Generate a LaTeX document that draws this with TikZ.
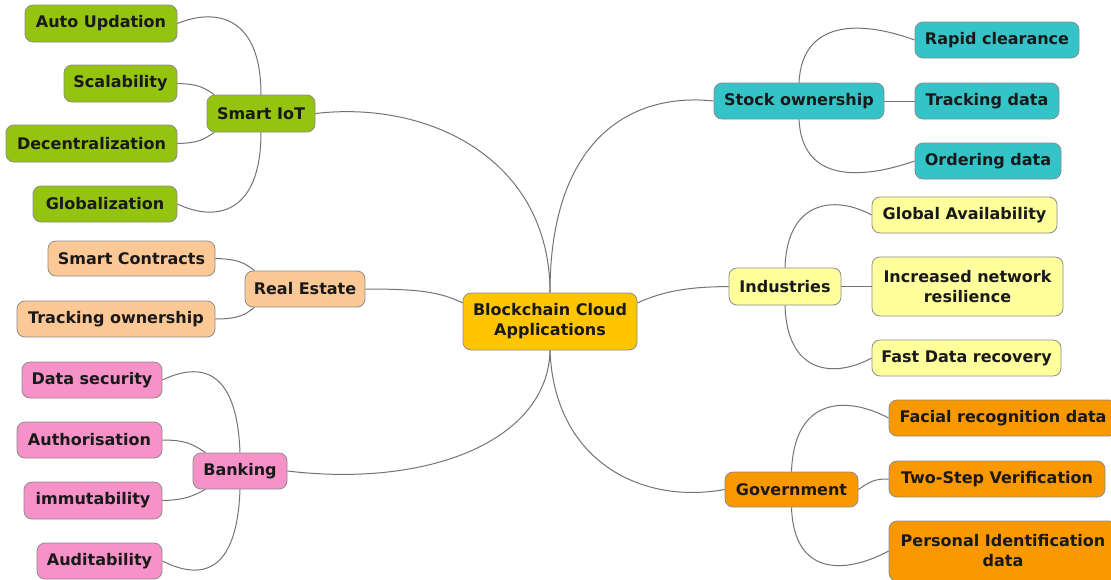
\documentclass[tikz,border=0pt]{standalone}
\usepackage{fontspec}
\setmainfont{DejaVu Sans}
\definecolor{cgreen}{RGB}{148,196,16}
\definecolor{cpeach}{RGB}{252,200,150}
\definecolor{cpink}{RGB}{246,146,200}
\definecolor{cgold}{RGB}{255,198,0}
\definecolor{cteal}{RGB}{52,196,200}
\definecolor{cyell}{RGB}{255,255,155}
\definecolor{corange}{RGB}{250,152,0}
\definecolor{ctext}{RGB}{25,25,25}
\definecolor{cline}{RGB}{115,115,115}
\tikzset{
  mbox/.style={draw=black!45, line width=0.8pt, rounded corners=8pt, inner sep=2pt,
    font=\fontsize{16}{20}\selectfont\bfseries, text=ctext, align=center},
  gbox/.style={mbox, fill=cgreen},
  pbox/.style={mbox, fill=cpeach},
  kbox/.style={mbox, fill=cpink},
  rbox/.style={mbox, fill=cgold},
  tbox/.style={mbox, fill=cteal},
  ybox/.style={mbox, fill=cyell},
  obox/.style={mbox, fill=corange},
  conn/.style={draw=cline, line width=1pt}
}
\begin{document}
\begin{tikzpicture}[x=1pt,y=-1pt]
\useasboundingbox (0,0) rectangle (1111,579);
% root
\node[rbox, minimum width=174pt, minimum height=57pt] (root) at (550,321.5) {Blockchain Cloud\\Applications};
% Smart IoT
\node[gbox, minimum width=108pt, minimum height=37pt] (iot) at (261,113.5) {Smart IoT};
\node[gbox, minimum width=152pt, minimum height=37pt] (aup) at (101,23.5) {Auto Updation};
\node[gbox, minimum width=113pt, minimum height=37pt] (sca) at (120.5,83.5) {Scalability};
\node[gbox, minimum width=171pt, minimum height=37pt] (dec) at (91.5,143.5) {Decentralization};
\node[gbox, minimum width=144pt, minimum height=36pt] (glo) at (105,204) {Globalization};
% Real estate
\node[pbox, minimum width=120pt, minimum height=36pt] (re) at (305,289) {Real Estate};
\node[pbox, minimum width=167pt, minimum height=35pt] (smc) at (131.5,258.5) {Smart Contracts};
\node[pbox, minimum width=198pt, minimum height=36pt] (tro) at (116,319) {Tracking ownership};
% Banking
\node[kbox, minimum width=94pt, minimum height=36pt] (bk) at (240,471) {Banking};
\node[kbox, minimum width=140pt, minimum height=36pt] (dse) at (92,380) {Data security};
\node[kbox, minimum width=145pt, minimum height=36pt] (aut) at (89.5,440) {Authorisation};
\node[kbox, minimum width=138pt, minimum height=37pt] (imm) at (93,500.5) {immutability};
\node[kbox, minimum width=125pt, minimum height=36pt] (aud) at (99.5,561) {Auditability};
% Stock ownership
\node[tbox, minimum width=170pt, minimum height=36pt] (sto) at (799,101) {Stock ownership};
\node[tbox, minimum width=164pt, minimum height=36pt] (rap) at (997,40) {Rapid clearance};
\node[tbox, minimum width=144pt, minimum height=36pt] (trd) at (987,101) {Tracking data};
\node[tbox, minimum width=146pt, minimum height=36pt] (ord) at (988,161) {Ordering data};
% Industries
\node[ybox, minimum width=112pt, minimum height=37pt] (ind) at (785,286.5) {Industries};
\node[ybox, minimum width=185pt, minimum height=36pt] (gav) at (964.5,215) {Global Availability};
\node[ybox, minimum width=191pt, minimum height=59pt] (inr) at (967.5,286.5) {Increased network\\resilience};
\node[ybox, minimum width=189pt, minimum height=36pt] (fdr) at (966.5,358) {Fast Data recovery};
% Government
\node[obox, minimum width=133pt, minimum height=35pt] (gov) at (791.5,489.5) {Government};
\node[obox, minimum width=228pt, minimum height=36pt] (fac) at (1003,418) {Facial recognition data};
\node[obox, minimum width=216pt, minimum height=36pt] (two) at (997,479) {Two-Step Verification};
\node[obox, minimum width=228pt, minimum height=60pt] (pid) at (1003,551) {Personal Identification\\data};
% main connectors
\draw[conn] (iot.east) .. controls (430,100) and (550,160) .. (root.north);
\draw[conn] (root.north) .. controls (550,140) and (630,92) .. (sto.west);
\draw[conn] (re.east) .. controls (420,289) and (440,292) .. (root.168);
\draw[conn] (root.12) .. controls (670,288) and (700,287) .. (ind.west);
\draw[conn] (bk.east) .. controls (430,488) and (548,440) .. (root.south);
\draw[conn] (root.south) .. controls (554,460) and (640,505) .. (gov.west);
% Smart IoT children
\draw[conn] (aup.east) .. controls (215,8) and (261,15) .. (iot.north);
\draw[conn] (sca.east) .. controls (198,84) and (203,87) .. (iot.158);
\draw[conn] (dec.east) .. controls (198,143) and (203,140) .. (iot.202);
\draw[conn] (glo.east) .. controls (215,222) and (261,215) .. (iot.south);
% Real estate children
\draw[conn] (smc.east) .. controls (238,259) and (245,263) .. (re.160);
\draw[conn] (tro.east) .. controls (238,319) and (245,315) .. (re.200);
% Banking children
\draw[conn] (dse.east) .. controls (200,362) and (237,368) .. (bk.north);
\draw[conn] (aut.east) .. controls (185,440) and (193,444) .. (bk.152);
\draw[conn] (imm.east) .. controls (185,500) and (193,496) .. (bk.208);
\draw[conn] (aud.east) .. controls (200,580) and (237,575) .. (bk.south);
% Stock children
\draw[conn] (sto.north) .. controls (802,20) and (860,20) .. (rap.west);
\draw[conn] (sto.east) -- (trd.west);
\draw[conn] (sto.south) .. controls (802,182) and (860,180) .. (ord.west);
% Industries children
\draw[conn] (ind.north) .. controls (787,200) and (835,195) .. (gav.west);
\draw[conn] (ind.east) -- (inr.west);
\draw[conn] (ind.south) .. controls (787,375) and (835,378) .. (fdr.west);
% Government children
\draw[conn] (gov.north) .. controls (794,398) and (845,395) .. (fac.west);
\draw[conn] (gov.east) .. controls (872,480) and (876,479) .. (two.west);
\draw[conn] (gov.south) .. controls (794,580) and (850,572) .. (pid.west);
\end{tikzpicture}
\end{document}
